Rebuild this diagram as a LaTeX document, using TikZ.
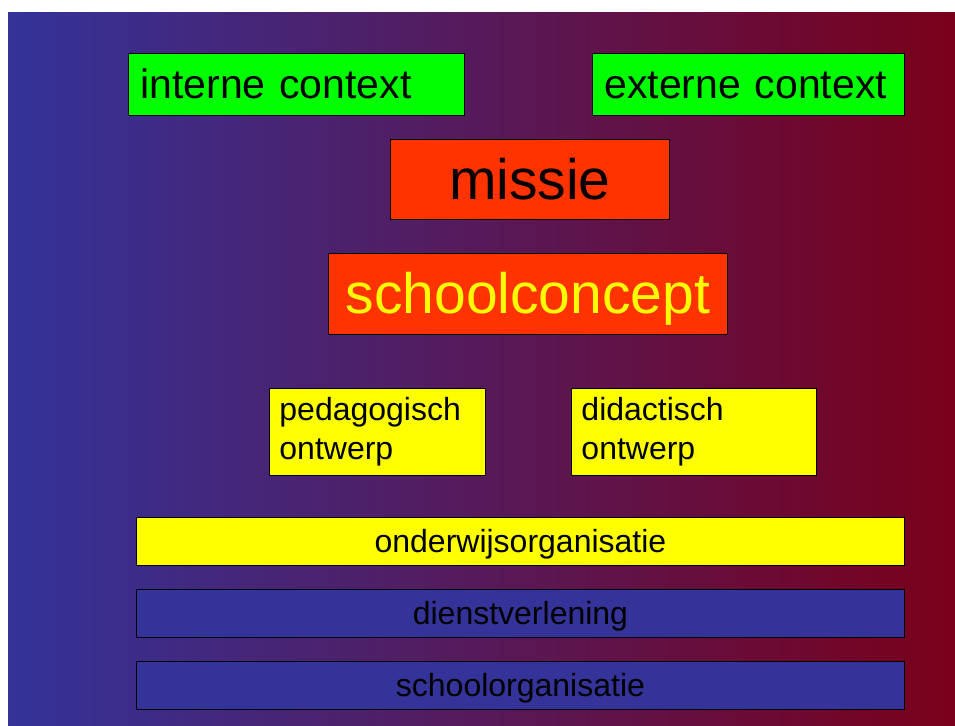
\documentclass[tikz,border=0pt]{standalone}
\usepackage{fontspec}
\setmainfont{Liberation Sans}
\definecolor{bgblue}{RGB}{51,51,153}
\definecolor{bgred}{RGB}{122,0,26}
\definecolor{boxgreen}{RGB}{0,255,0}
\definecolor{boxred}{RGB}{255,51,0}
\definecolor{boxyellow}{RGB}{255,255,0}
\definecolor{boxblue}{RGB}{51,51,153}
\tikzset{
  box/.style={draw=black, line width=0.9pt, anchor=north west, inner ysep=0pt, font=\fontsize{32}{39}\selectfont},
  ctxbox/.style={box, text height=37.1pt, text depth=8.7pt, fill=boxgreen, align=left, inner xsep=12pt, font=\fontsize{41}{47}\selectfont},
  bigbox/.style={box, text height=51.6pt, text depth=12.1pt, fill=boxred, align=center, inner xsep=0pt, font=\fontsize{57}{64}\selectfont},
  designbox/.style={box, fill=boxyellow, align=left, inner xsep=10pt},
  layerbox/.style={box, text height=29pt, text depth=6.8pt, align=center, inner xsep=0pt, minimum width=768pt, text width=768pt, minimum height=48pt},
}
\begin{document}
\begin{tikzpicture}[x=1pt,y=1pt]
\useasboundingbox (0,0) rectangle (955,-725);
\shade[left color=bgblue, right color=bgred] (8,-13) rectangle (955,-725);
\node[ctxbox, minimum width=336pt, text width=312pt, minimum height=62pt] (intern) at (128,-53) {interne context};
\node[ctxbox, minimum width=312pt, text width=288pt, minimum height=62pt] (extern) at (592,-53) {externe context};
\node[bigbox, minimum width=279pt, text width=279pt, minimum height=80pt] (missie) at (390,-139) {missie};
\node[bigbox, minimum width=399pt, text width=399pt, minimum height=81pt, text=boxyellow] (concept) at (328,-253) {schoolconcept};
\node[designbox, minimum width=216pt, text width=196pt, minimum height=87pt] (pedag) at (269,-388) {pedagogisch\\ontwerp};
\node[designbox, minimum width=245pt, text width=225pt, minimum height=87pt] (didac) at (571,-388) {didactisch\\ontwerp};
\node[layerbox, fill=boxyellow] (onderwijs) at (136,-517) {onderwijsorganisatie};
\node[layerbox, fill=boxblue] (dienst) at (136,-589) {dienstverlening};
\node[layerbox, fill=boxblue] (school) at (136,-661) {schoolorganisatie};
\end{tikzpicture}
\end{document}
